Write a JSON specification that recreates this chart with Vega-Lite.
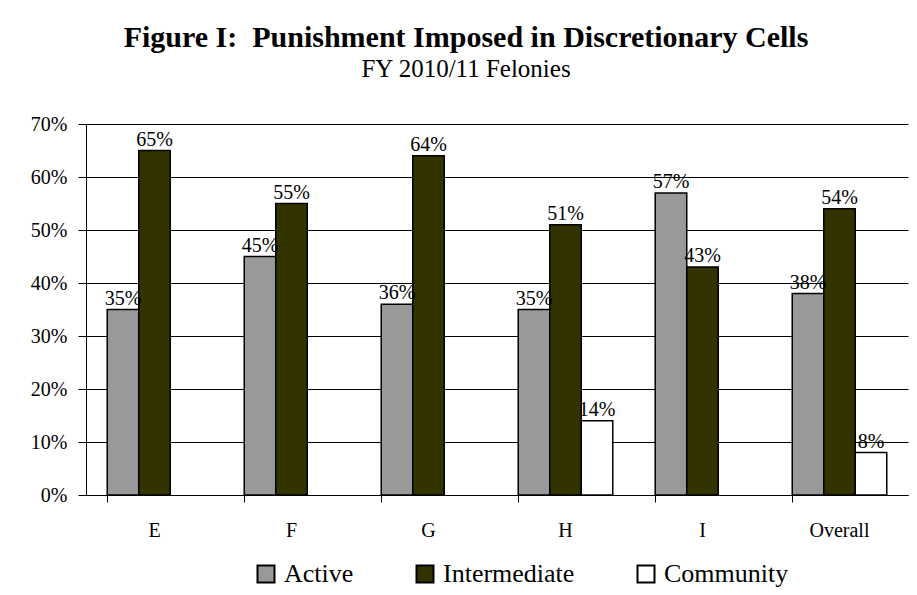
{
  "$schema": "https://vega.github.io/schema/vega-lite/v6.json",
  "width": 822,
  "height": 371,
  "autosize": "none",
  "padding": {"left": 86, "top": 124, "right": 9, "bottom": 100},
  "background": "white",
  "config": {"view": {"stroke": null}},
  "title": {
    "text": "Figure I:\u00a0\u00a0Punishment Imposed in Discretionary Cells",
    "subtitle": "FY 2010/11 Felonies",
    "font": "Liberation Serif",
    "fontSize": 30,
    "fontWeight": "bold",
    "color": "black",
    "subtitleFont": "Liberation Serif",
    "subtitleFontSize": 25,
    "subtitleColor": "black",
    "subtitlePadding": 4,
    "anchor": "middle",
    "dx": -31,
    "offset": 32
  },
  "data": {
    "values": [
      {"cat": "E", "type": "Active", "value": 0.35},
      {"cat": "E", "type": "Intermediate", "value": 0.65},
      {"cat": "F", "type": "Active", "value": 0.45},
      {"cat": "F", "type": "Intermediate", "value": 0.55},
      {"cat": "G", "type": "Active", "value": 0.36},
      {"cat": "G", "type": "Intermediate", "value": 0.64},
      {"cat": "H", "type": "Active", "value": 0.35},
      {"cat": "H", "type": "Intermediate", "value": 0.51},
      {"cat": "H", "type": "Community", "value": 0.14},
      {"cat": "I", "type": "Active", "value": 0.57},
      {"cat": "I", "type": "Intermediate", "value": 0.43},
      {"cat": "Overall", "type": "Active", "value": 0.38},
      {"cat": "Overall", "type": "Intermediate", "value": 0.54},
      {"cat": "Overall", "type": "Community", "value": 0.08}
    ]
  },
  "encoding": {
    "x": {
      "field": "cat",
      "type": "nominal",
      "sort": ["E", "F", "G", "H", "I", "Overall"],
      "scale": {"paddingInner": 0.31, "paddingOuter": 0.155},
      "axis": {
        "title": null,
        "labelAngle": 0,
        "bandPosition": 0,
        "ticks": true,
        "tickSize": 7,
        "tickColor": "black",
        "domainColor": "black",
        "labelPadding": 18,
        "labelFont": "Liberation Serif",
        "labelFontSize": 20,
        "labelColor": "black"
      }
    },
    "xOffset": {
      "field": "type",
      "type": "nominal",
      "sort": ["Active", "Intermediate", "Community"],
      "scale": {"paddingInner": 0}
    },
    "y": {
      "field": "value",
      "type": "quantitative",
      "scale": {"domain": [0, 0.7]},
      "axis": {
        "title": null,
        "values": [0, 0.1, 0.2, 0.3, 0.4, 0.5, 0.6, 0.7],
        "format": ".0%",
        "grid": true,
        "gridColor": "black",
        "gridOpacity": 1,
        "gridWidth": 1,
        "domainColor": "black",
        "tickColor": "black",
        "tickSize": 8,
        "labelPadding": 11,
        "labelFont": "Liberation Serif",
        "labelFontSize": 20,
        "labelColor": "black"
      }
    }
  },
  "layer": [
    {
      "mark": {"type": "bar", "stroke": "black", "strokeWidth": 1.5},
      "encoding": {
        "fill": {
          "field": "type",
          "type": "nominal",
          "sort": ["Active", "Intermediate", "Community"],
          "scale": {"domain": ["Active", "Intermediate", "Community"], "range": ["#999999", "#333300", "#ffffff"]},
          "legend": {
            "orient": "none",
            "legendX": 167,
            "legendY": 437,
            "direction": "horizontal",
            "title": null,
            "symbolType": "square",
            "symbolSize": 289,
            "symbolStrokeColor": "black",
            "symbolStrokeWidth": 2,
            "symbolOpacity": 1,
            "labelFont": "Liberation Serif",
            "labelFontSize": 26,
            "labelColor": "black",
            "columnPadding": 58,
            "labelOffset": 5
          }
        }
      }
    },
    {
      "mark": {"type": "text", "baseline": "alphabetic", "dy": -5, "font": "Liberation Serif", "fontSize": 20, "color": "black"},
      "encoding": {"text": {"field": "value", "type": "quantitative", "format": ".0%"}}
    }
  ]
}
